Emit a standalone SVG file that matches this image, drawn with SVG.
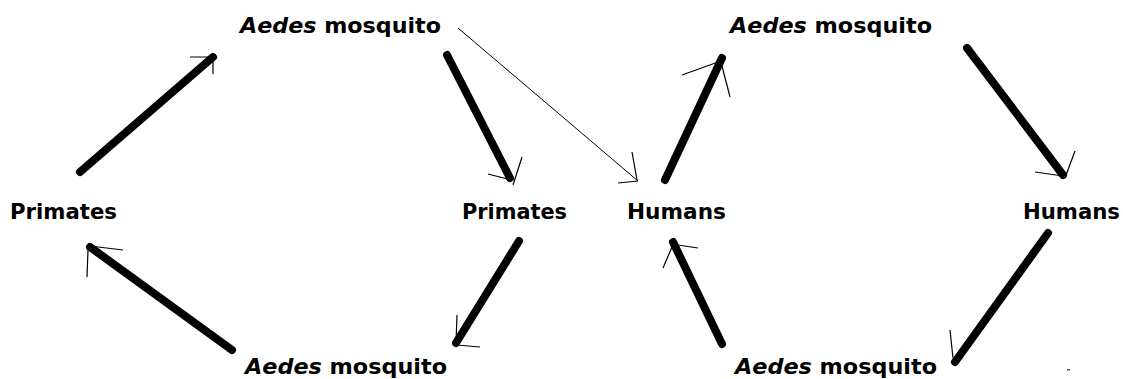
<svg xmlns="http://www.w3.org/2000/svg" width="1123" height="379" viewBox="0 0 1123 379">
<style>
text{font-family:"DejaVu Sans","Liberation Sans",sans-serif;font-weight:bold;font-size:21.5px;fill:#000}
.it{font-style:italic}
.thick{stroke:#000;stroke-width:8;stroke-linecap:round;fill:none}
.thin{stroke:#000;stroke-width:1;fill:none}
.head{stroke:#000;stroke-width:1.2;fill:none}
</style>
<rect width="1123" height="379" fill="#fff"/>
<g id="aedes-top-left"><text x="240" y="33" textLength="201" lengthAdjust="spacingAndGlyphs"><tspan class="it">Aedes</tspan> mosquito</text></g>
<g id="aedes-top-right"><text x="730" y="33" textLength="202" lengthAdjust="spacingAndGlyphs"><tspan class="it">Aedes</tspan> mosquito</text></g>
<g id="aedes-bottom-left"><text x="245" y="374" textLength="202" lengthAdjust="spacingAndGlyphs"><tspan class="it">Aedes</tspan> mosquito</text></g>
<g id="aedes-bottom-right"><text x="735" y="374" textLength="202" lengthAdjust="spacingAndGlyphs"><tspan class="it">Aedes</tspan> mosquito</text></g>
<g id="primates-left"><text x="10" y="219" textLength="107" lengthAdjust="spacingAndGlyphs">Primates</text></g>
<g id="primates-right"><text x="462" y="219" textLength="105" lengthAdjust="spacingAndGlyphs">Primates</text></g>
<g id="humans-left"><text x="627" y="219" textLength="99" lengthAdjust="spacingAndGlyphs">Humans</text></g>
<g id="humans-right"><text x="1023" y="219" textLength="97" lengthAdjust="spacingAndGlyphs">Humans</text></g>
<g id="connectors">
<line class="thick" x1="80" y1="172" x2="213" y2="57"/>
<path class="head" d="M190 57H213M213 57V74"/>
<line class="thick" x1="447" y1="55" x2="510" y2="178"/>
<path class="head" d="M488 174L511 180M522 157L513 185"/>
<line class="thin" x1="458" y1="28" x2="638" y2="181"/>
<path class="head" d="M618 183L638 181M632 152L637 180"/>
<line class="thick" x1="665" y1="180" x2="722" y2="58"/>
<path class="head" d="M682 75L721 61M722 66L730 97"/>
<line class="thick" x1="967" y1="48" x2="1063" y2="175"/>
<path class="head" d="M1035 172L1063 176M1075 151L1065 178"/>
<line class="thick" x1="232" y1="350" x2="90" y2="247"/>
<path class="head" d="M90 246L123 250M88 250L87 277"/>
<line class="thick" x1="519" y1="241" x2="456" y2="343"/>
<path class="head" d="M457 315L456 343M457 345L480 347"/>
<line class="thick" x1="722" y1="344" x2="673" y2="242"/>
<path class="head" d="M678 245L698 248M672 247L663 268"/>
<line class="thick" x1="1048" y1="233" x2="955" y2="362"/>
<path class="head" d="M950 330L953 358"/>
<rect x="1067" y="369" width="3" height="1.5" fill="#555"/>
</g>
</svg>
